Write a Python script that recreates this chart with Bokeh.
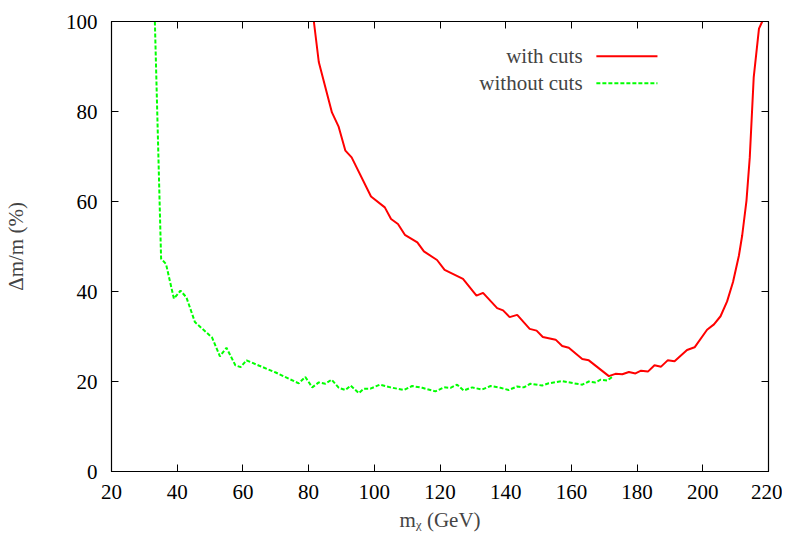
from bokeh.plotting import figure
from bokeh.models import LinearAxis, Range1d, FixedTicker, Label
from bokeh.embed import file_html
from bokeh.resources import INLINE

# ---- data ----
x_with = [81.6, 83.1, 87.1, 89.1, 91.2, 93.1, 99.0, 103.2, 105.1, 107.2, 109.3, 113.1,
          115.1, 119.1, 121.4, 127.0, 131.1, 133.1, 137.4, 139.2, 141.2, 143.5, 147.3,
          149.4, 151.3, 155.2, 157.2, 159.2, 163.3, 165.3, 171.4, 173.4, 175.5, 177.5,
          179.5, 181.2, 183.3, 185.3, 187.3, 189.3, 191.4, 195.2, 197.5, 201.3, 203.4,
          205.4, 207.4, 209.2, 211.0, 212.0, 213.3, 214.3, 215.5, 217.1, 218.1]
y_with = [100.0, 91.0, 79.8, 76.7, 71.3, 69.8, 61.1, 58.7, 56.1, 55.0, 52.6, 50.9,
          48.9, 47.0, 44.8, 42.8, 39.1, 39.7, 36.3, 35.8, 34.3, 34.8, 31.7,
          31.3, 29.9, 29.3, 27.9, 27.5, 25.0, 24.7, 21.2, 21.7, 21.6, 22.1,
          21.8, 22.4, 22.2, 23.6, 23.3, 24.7, 24.5, 27.0, 27.6, 31.5, 32.7,
          34.5, 37.8, 42.1, 48.0, 52.5, 60.2, 69.8, 87.6, 98.4, 100.0]

x_without = [33.2, 35.1, 36.6, 39.0, 41.0, 42.8, 45.4, 50.6, 53.0, 55.0, 57.7, 59.3,
             61.1, 65.0, 70.0, 74.0, 77.0, 79.0, 81.1, 83.1, 85.1, 87.0, 89.2, 91.2,
             92.8, 95.3, 96.8, 98.8, 101.7, 104.9, 109.0, 111.5, 114.6, 118.6, 121.2,
             123.2, 125.2, 127.2, 129.8, 132.8, 135.4, 138.4, 140.9, 143.5, 145.5,
             147.5, 151.1, 153.1, 157.2, 160.7, 163.3, 165.3, 167.3, 168.9, 170.9, 172.4]
y_without = [100.0, 47.3, 46.1, 38.4, 40.2, 38.7, 33.2, 29.8, 25.6, 27.5, 23.6, 23.2,
             24.7, 23.5, 22.0, 20.6, 19.6, 21.0, 18.7, 19.8, 19.5, 20.4, 18.6, 18.1,
             19.1, 17.4, 18.4, 18.4, 19.3, 18.7, 18.1, 19.0, 18.6, 17.8, 18.7,
             18.6, 19.3, 18.0, 18.7, 18.2, 19.0, 18.6, 18.1, 18.9, 18.7,
             19.5, 19.1, 19.6, 20.1, 19.6, 19.3, 20.0, 19.8, 20.4, 20.2, 21.0]

x_ticks = [20, 40, 60, 80, 100, 120, 140, 160, 180, 200, 220]
y_ticks = [0, 20, 40, 60, 80, 100]

labels = ["with cuts", "without cuts"]
x_title = "mᵪ (GeV)"
y_title = "Δm/m (%)"

FONT = "Liberation Serif"
FS = "21px"
RED = "#ff0000"
GREEN = "#00ff00"

p = figure(output_backend="svg", toolbar_location=None,
           x_range=Range1d(20, 220), y_range=Range1d(0, 100),
           min_border_left=103, min_border_right=14, min_border_top=21,
           min_border_bottom=55, x_axis_location=None, y_axis_location=None,
           frame_width=657, frame_height=450)
p.grid.visible = False
p.outline_line_color = "black"
p.outline_line_width = 1.2
p.background_fill_color = "white"
p.border_fill_color = "white"


def make_axis(ticks, show_labels):
    ax = LinearAxis(ticker=FixedTicker(ticks=ticks))
    ax.major_tick_in = 7
    ax.major_tick_out = 0
    ax.minor_tick_line_color = None
    ax.axis_line_color = "black"
    ax.major_tick_line_color = "black"
    ax.major_label_text_font = FONT
    if show_labels:
        ax.major_label_text_font_size = FS
        ax.major_label_text_color = "black"
    else:
        ax.major_label_text_font_size = "1px"
        ax.major_label_text_color = None
        ax.major_label_standoff = 0
    return ax


xb = make_axis(x_ticks, True)
xb.major_label_standoff = 13
xb.axis_label = x_title
xb.axis_label_text_font = FONT
xb.axis_label_text_font_size = FS
xb.axis_label_text_font_style = "normal"
xb.axis_label_standoff = 6
p.add_layout(xb, "below")

yl = make_axis(y_ticks, True)
yl.major_label_standoff = 14
yl.axis_label = y_title
yl.axis_label_text_font = FONT
yl.axis_label_text_font_size = FS
yl.axis_label_text_font_style = "normal"
yl.axis_label_standoff = 35
p.add_layout(yl, "left")

p.add_layout(make_axis(x_ticks, False), "above")
p.add_layout(make_axis(y_ticks, False), "right")

# curves
p.line(x_with, y_with, line_color=RED, line_width=2)
p.line(x_without, y_without, line_color=GREEN, line_width=2, line_dash="4 2")

# key (gnuplot style: text then sample)
key_text_x = 163.4
key_line_x = [167.6, 186.2]
key_y = [92.3, 86.3]
for lab, ky in zip(labels, key_y):
    p.add_layout(Label(x=key_text_x, y=ky, text=lab, text_align="right",
                       text_baseline="middle", text_font=FONT, text_font_size=FS))
p.line(key_line_x, [key_y[0], key_y[0]], line_color=RED, line_width=2)
p.line(key_line_x, [key_y[1], key_y[1]], line_color=GREEN, line_width=2, line_dash="4 2")

open("out.html", "w").write(file_html(p, INLINE))
